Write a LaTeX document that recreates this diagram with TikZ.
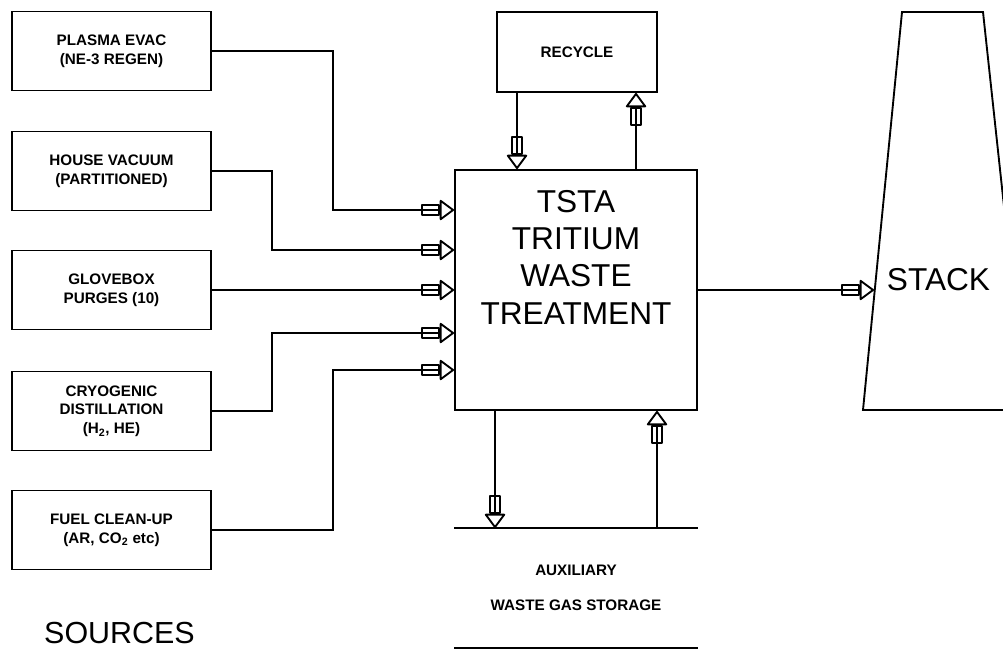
\documentclass[tikz,border=0pt]{standalone}
\usepackage{fontspec}
\setmainfont{Liberation Sans}
\usetikzlibrary{arrows.meta}

\begin{document}
\begin{tikzpicture}[x=0.3mm,y=-0.3mm,line width=1.6pt,
    src/.style={shape=rectangle,draw=black,minimum width=59.7mm,minimum height=23.7mm,align=center,font=\fontsize{13}{16}\selectfont\bfseries},
    feed/.style={-{Rectangle[open,round,length=5.5mm,width=3.6mm]Triangle[open,round,length=4.5mm,width=6.5mm]}}]
    \clip (0,0) rectangle (1003,658);

    \node[src] (plasma) at (111.5,51) {PLASMA EVAC\\(NE-3 REGEN)};
    \node[src] (house) at (111.5,171) {HOUSE VACUUM\\(PARTITIONED)};
    \node[src] (glove) at (111.5,290) {GLOVEBOX\\PURGES (10)};
    \node[src] (cryo) at (111.5,411) {CRYOGENIC\\DISTILLATION\\(H\textsubscript{2}, HE)};
    \node[src] (fuel) at (111.5,530) {FUEL CLEAN-UP\\(AR, CO\textsubscript{2} etc)};
    \node[font=\fontsize{26}{30}\selectfont] (sources) at (119.5,633) {SOURCES};

    \node[shape=rectangle,draw=black,minimum width=72.6mm,minimum height=72mm,align=center,font=\fontsize{27}{32}\selectfont] (tsta) at (576,290) {TSTA\\TRITIUM\\WASTE\\TREATMENT\\[24pt]\mbox{}};
    \node[shape=rectangle,draw=black,minimum width=48mm,minimum height=24mm,font=\fontsize{13}{16}\selectfont\bfseries] (recycle) at (577,52) {RECYCLE};
    \node[minimum width=72.6mm,minimum height=35.4mm,align=center,font=\fontsize{13}{16}\selectfont\bfseries] (aux) at (576,588) {AUXILIARY\\[14pt]WASTE GAS STORAGE};
    \draw (aux.north west) -- (aux.north east);
    \draw (aux.south west) -- (aux.south east);

    \draw (902,12) -- (983,12) -- (1026,410) -- (863,410) -- cycle;
    \node[font=\fontsize{27}{32}\selectfont,anchor=west,inner sep=0pt] (stack) at (886,280) {STACK};
    \coordinate (stackin) at (874,290);

    \coordinate (j1) at (333,210);
    \coordinate (j2) at (272,250);
    \coordinate (j4) at (272,333);
    \coordinate (j5) at (333,370);
    \coordinate (r1) at (517,0);
    \coordinate (r2) at (636,0);
    \coordinate (a1) at (495,0);
    \coordinate (a2) at (657,0);

    \draw[feed] (plasma.east) -| (j1) -- (j1 -| tsta.west);
    \draw[feed] (house.east) -| (j2) -- (j2 -| tsta.west);
    \draw[feed] (glove.east) -- (glove.east -| tsta.west);
    \draw[feed] (cryo.east) -| (j4) -- (j4 -| tsta.west);
    \draw[feed] (fuel.east) -| (j5) -- (j5 -| tsta.west);

    \draw[feed] (recycle.south -| r1) -- (tsta.north -| r1);
    \draw[feed] (tsta.north -| r2) -- (recycle.south -| r2);
    \draw[feed] (tsta.south -| a1) -- (aux.north -| a1);
    \draw[feed] (aux.north -| a2) -- (tsta.south -| a2);

    \draw[feed] (tsta.east) -- (stackin);
\end{tikzpicture}
\end{document}
